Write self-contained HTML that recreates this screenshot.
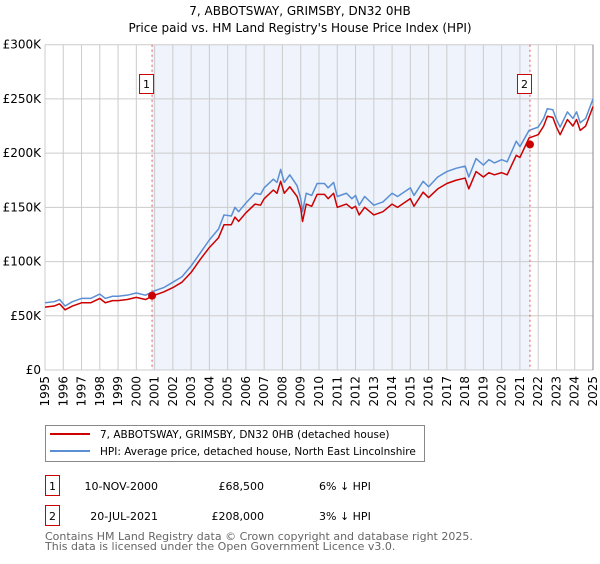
<!DOCTYPE html>
<html><head><meta charset="utf-8"><style>
body{margin:0;background:#fff;font-family:"DejaVu Sans","Liberation Sans",sans-serif;}
svg text{font-family:"DejaVu Sans","Liberation Sans",sans-serif;}
</style></head><body>
<svg id="chart" width="600" height="560" viewBox="0 0 600 560" xmlns="http://www.w3.org/2000/svg">
<text x="300" y="15" text-anchor="middle" font-size="12" fill="#000">7, ABBOTSWAY, GRIMSBY, DN32 0HB</text>
<text x="300" y="32" text-anchor="middle" font-size="12" fill="#000">Price paid vs. HM Land Registry's House Price Index (HPI)</text>
<g id="plot"></g>
<g>
<rect x="45.5" y="425.5" width="379" height="36" fill="#fff" stroke="#888"/>
<line x1="50" y1="434" x2="90" y2="434" stroke="#cc0000" stroke-width="2"/>
<text x="100" y="438" font-size="10.5">7, ABBOTSWAY, GRIMSBY, DN32 0HB (detached house)</text>
<line x1="50" y1="451" x2="90" y2="451" stroke="#5b8fd4" stroke-width="2"/>
<text x="100" y="455" font-size="10.5">HPI: Average price, detached house, North East Lincolnshire</text>
</g>
<g>
<rect x="45.5" y="475.5" width="14" height="20" fill="#fff" stroke="#cc0000"/>
<text x="52.5" y="490" text-anchor="middle" font-size="11">1</text>
<text x="158" y="490" text-anchor="end" font-size="11">10-NOV-2000</text>
<text x="264" y="490" text-anchor="end" font-size="11">£68,500</text>
<text x="319" y="490" font-size="11">6% ↓ HPI</text>
<rect x="45.5" y="505.5" width="14" height="20" fill="#fff" stroke="#cc0000"/>
<text x="52.5" y="520" text-anchor="middle" font-size="11">2</text>
<text x="158" y="520" text-anchor="end" font-size="11">20-JUL-2021</text>
<text x="264" y="520" text-anchor="end" font-size="11">£208,000</text>
<text x="319" y="520" font-size="11">3% ↓ HPI</text>
</g>
<text x="45" y="540" font-size="11" fill="#666">Contains HM Land Registry data © Crown copyright and database right 2025.</text>
<text x="45" y="550" font-size="11" fill="#666">This data is licensed under the Open Government Licence v3.0.</text>
</svg>
<script>
const years=[1995,1996,1997,1998,1999,2000,2001,2002,2003,2004,2005,2006,2007,2008,2009,2010,2011,2012,2013,2014,2015,2016,2017,2018,2019,2020,2021,2022,2023,2024,2025];
const yTicks=[0,50000,100000,150000,200000,250000,300000];
const yTickLabels=["£0","£50K","£100K","£150K","£200K","£250K","£300K"];
const hpiDates=[1995,1995.5,1995.8,1996.1,1996.5,1997,1997.5,1998,1998.3,1998.7,1999,1999.5,2000,2000.5,2001,2001.5,2002,2002.5,2003,2003.5,2004,2004.5,2004.8,2005.2,2005.4,2005.6,2006,2006.5,2006.8,2007,2007.5,2007.7,2007.9,2008.1,2008.4,2008.8,2009,2009.1,2009.3,2009.6,2009.9,2010.3,2010.5,2010.8,2011,2011.5,2011.8,2012,2012.2,2012.5,2013,2013.5,2014,2014.3,2015,2015.2,2015.7,2016,2016.5,2017,2017.5,2018,2018.2,2018.6,2019,2019.3,2019.6,2020,2020.3,2020.8,2021,2021.5,2022,2022.3,2022.5,2022.8,2023,2023.2,2023.6,2023.9,2024.1,2024.3,2024.6,2025];
const hpiValues=[62000,63000,65000,59000,63000,66000,66000,70000,66000,68000,68000,69000,71000,69000,73000,76000,81000,86000,96000,108000,120000,130000,143000,142000,150000,146000,154000,163000,162000,168000,176000,173000,185000,173000,180000,170000,158000,146000,163000,161000,172000,172000,168000,173000,160000,163000,158000,161000,152000,160000,152000,155000,163000,160000,168000,161000,174000,169000,178000,183000,186000,188000,178000,195000,189000,194000,191000,194000,192000,211000,206000,221000,224000,232000,241000,240000,231000,224000,238000,232000,238000,228000,232000,250000];
const priceValues=[58000,59000,61000,55500,59000,62000,62000,66000,62000,64000,64000,65000,67000,65000,69000,72000,76000,81000,90000,102000,113000,122000,134000,134000,141000,137000,145000,153000,152000,158000,166000,163000,174000,163000,169000,160000,149000,137000,153000,151000,162000,162000,158000,163000,150000,153000,149000,151000,143000,150000,143000,146000,153000,150000,158000,151000,164000,159000,167000,172000,175000,177000,167000,183000,178000,182000,180000,182000,180000,198000,196000,214000,217000,225000,234000,233000,224000,217000,231000,225000,231000,221000,225000,243000];
const saleDates=[2000.86,2021.55];
const salePrices=[68500,208000];
const saleLabels=["1","2"];

const NS="http://www.w3.org/2000/svg";
const X0=45,X1=593,Y0=370,Y1=44.7;
const xs=t=>X0+(t-1995)/30*(X1-X0);
const ys=v=>Y0-v/300000*(Y0-Y1);
const g=document.getElementById('plot');
function mk(tag,attrs){const e=document.createElementNS(NS,tag);for(const k in attrs)e.setAttribute(k,attrs[k]);g.appendChild(e);return e;}
const shade=mk('rect',{x:xs(saleDates[0]),y:Y1,width:xs(saleDates[1])-xs(saleDates[0]),height:Y0-Y1,fill:'#eef3fc'});


years.forEach(yr=>{
  const l=mk('line',{x1:xs(yr),x2:xs(yr),y1:Y1,y2:Y0,stroke:'#ccc','stroke-width':1});
  
  
  const t=mk('text',{x:0,y:0,'font-size':12,'text-anchor':'end',transform:`translate(${xs(yr)+4},${Y0+6}) rotate(-90)`});
  t.textContent=yr;
  
  
});
yTicks.forEach((v,i)=>{
  const l=mk('line',{x1:X0,x2:X1,y1:ys(v),y2:ys(v),stroke:'#ccc','stroke-width':1});
  
  
  const t=mk('text',{x:X0-4,y:ys(v)+4,'font-size':12,'text-anchor':'end'});
  t.textContent=yTickLabels[i];
  
  
});
const ax=mk('line',{x1:X1,x2:X1,y1:Y1,y2:Y0,stroke:'#888','stroke-width':1});


function line(vals,color,name){
  const p=mk('polyline',{points:hpiDates.map((d,i)=>xs(d)+','+ys(vals[i])).join(' '),fill:'none',stroke:color,'stroke-width':1.5,'stroke-linejoin':'round'});
  
  
}
line(hpiValues,'#5b8fd4','hpi-line');
line(priceValues,'#cc0000','price-paid-line');
saleDates.forEach((d,i)=>{
  const v=mk('line',{x1:xs(d),x2:xs(d),y1:Y1,y2:Y0,stroke:'#ee5555','stroke-dasharray':'2,3','stroke-width':1});
  
  
  const c=mk('circle',{cx:xs(d),cy:ys(salePrices[i]),r:4,fill:'#cc0000'});
  
  
  const b=mk('rect',{x:xs(d)-12.5,y:74.5,width:14,height:19,fill:'#fff',stroke:'#cc0000'});
  
  
  const t=mk('text',{x:xs(d)-5.5,y:88,'font-size':11,'text-anchor':'middle'});
  t.textContent=saleLabels[i];
  
  
});
</script>
</body></html>
